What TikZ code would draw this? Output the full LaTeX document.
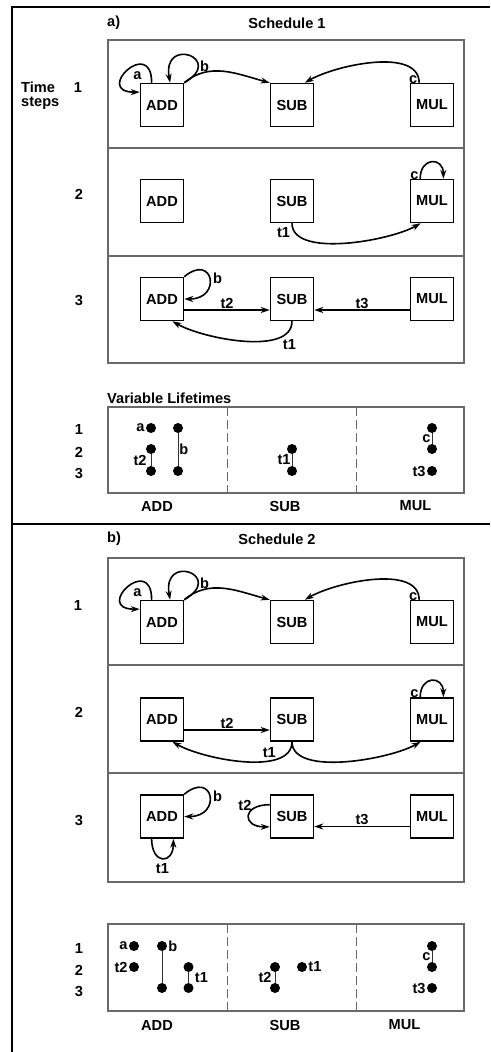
\documentclass[tikz,border=0pt]{standalone}
\usepackage{fontspec}
\setmainfont{Liberation Sans}
\usetikzlibrary{arrows.meta, positioning}
\definecolor{frameGray}{RGB}{105,105,105}
\definecolor{lifeGray}{RGB}{50,50,50}

\begin{document}
\begin{tikzpicture}[
	x=1pt, y=1pt,
	font=\fontsize{14.6}{16}\selectfont\bfseries,
	every node/.append style={inner sep=1pt},
	every label/.style={inner sep=1pt},
	opbox/.style={draw, line width=1.5pt, minimum width=43pt, minimum height=43pt, inner sep=0pt},
	panel/.style={draw=frameGray, line width=1.1pt},
	colsep/.style={draw=frameGray, line width=1pt, dash pattern=on 9pt off 4pt},
	arr/.style={-{Stealth[length=9pt, width=6pt]}, line width=1.6pt},
	vardot/.style={circle, fill, inner sep=0pt, minimum size=10pt, label distance=1pt},
	life/.style={draw=lifeGray, line width=0.9pt}
]
	\useasboundingbox (0,0) rectangle (490,-1052);
	\draw[line width=2pt] (490,-7) -- (12,-7) -- (12,-1052);
	\draw[line width=2pt] (12,-524) -- (490,-524);

	% a) schedule 1
	\node[anchor=west] (tagA) at (106,-23) {a)};
	\node (titleA) at (287,-23) {Schedule 1};
	\node[align=left, anchor=north west, inner sep=0pt, font=\fontsize{14.6}{13.5}\selectfont\bfseries] (timeLbl) at (21,-82) {Time\\steps};
	\node (stepA1) at (78,-87) {1};
	\node (stepA2) at (79,-194) {2};
	\node (stepA3) at (79,-300) {3};
	\draw[panel] (108,-40) rectangle (464,-363);
	\draw[panel] (108,-148) -- (464,-148);
	\draw[panel] (108,-256) -- (464,-256);

	\node[opbox] (addA1) at (162,-105) {ADD};
	\node[opbox, right=85.5pt of addA1] (subA1) {SUB};
	\node[opbox, right=95.5pt of subA1] (mulA1) {MUL};
	\node[opbox] (addA2) at (162,-201) {ADD};
	\node[opbox, right=85.5pt of addA2] (subA2) {SUB};
	\node[opbox, right=95.5pt of subA2] (mulA2) {MUL};
	\node[opbox] (addA3) at (162,-299) {ADD};
	\node[opbox, right=85.5pt of addA3] (subA3) {SUB};
	\node[opbox, right=95.5pt of subA3] (mulA3) {MUL};

	\draw[arr] (addA1.115) to[out=90, in=180, distance=47pt] node[pos=0.6, right=8pt]{a} (addA1.150);
	\draw[arr] (addA1.north east) to[out=30, in=100, distance=48pt] node[pos=0.25, right]{b} (addA1.70);
	\draw[arr] (addA1.north east) to[out=40, in=165] (subA1.north west);
	\draw[arr] (mulA1.120) to[out=90, in=30, looseness=0.8] node[pos=0.03, left]{c} (subA1.60);

	\draw[arr] (mulA2.118) to[out=90, in=90, distance=22pt] node[pos=0.05, left]{c} (mulA2.63);
	\draw[arr] (subA2.south) to[out=-90, in=-150, looseness=0.7] node[pos=0.1, left=3pt]{t1} (mulA2.243);

	\draw[arr] (addA3.north east) to[out=40, in=0, distance=38pt] node[pos=0.5, right=2pt]{b} (addA3.east);
	\draw[arr] ([yshift=-11pt]addA3.east) -- node[above]{t2} ([yshift=-11pt]subA3.west);
	\draw[arr] ([yshift=-11pt]mulA3.west) -- node[above]{t3} ([yshift=-11pt]subA3.east);
	\draw[arr] (subA3.south) to[out=-90, in=-30, looseness=0.75] node[pos=0.1, below=7pt]{t1} (addA3.-65);

	\node[anchor=west] (lifeTitle) at (106,-398) {Variable Lifetimes};
	\draw[panel] (108,-407) rectangle (464,-493);
	\draw[colsep] (227,-407) -- (227,-493);
	\draw[colsep] (356,-407) -- (356,-493);
	\node (lstepA1) at (79,-429) {1};
	\node (lstepA2) at (79,-452) {2};
	\node (lstepA3) at (79,-473) {3};

	\node[vardot, label=left:a] (varAa) at (151,-428) {};
	\node[vardot] (varAt2s) at (151,-449) {};
	\node[vardot] (varAt2e) at (151,-471) {};
	\node[vardot] (varAbs) at (178,-428) {};
	\node[vardot] (varAbe) at (178,-471) {};
	\node[vardot] (varAt1s) at (292,-449) {};
	\node[vardot] (varAt1e) at (292,-471) {};
	\node[vardot] (varAcs) at (432,-428) {};
	\node[vardot] (varAce) at (432,-449) {};
	\node[vardot, label=left:t3] (varAt3) at (432,-471) {};
	\draw[life] (varAt2s) -- node[left=3pt]{t2} (varAt2e);
	\draw[life] (varAbs) -- node[right]{b} (varAbe);
	\draw[life] (varAt1s) -- node[left]{t1} (varAt1e);
	\draw[life] (varAcs) -- node[left]{c} (varAce);

	\node (unitA1) at (157,-506) {ADD};
	\node (unitA2) at (285,-506) {SUB};
	\node (unitA3) at (415.5,-506) {MUL};

	% b) schedule 2
	\node[anchor=west] (tagB) at (106,-539) {b)};
	\node (titleB) at (277,-539) {Schedule 2};
	\node (stepB1) at (78,-605) {1};
	\node (stepB2) at (79,-712) {2};
	\node (stepB3) at (79,-820) {3};
	\draw[panel] (108,-558) rectangle (464,-882);
	\draw[panel] (108,-665) -- (464,-665);
	\draw[panel] (108,-773) -- (464,-773);

	\node[opbox] (addB1) at (162,-622) {ADD};
	\node[opbox, right=85.5pt of addB1] (subB1) {SUB};
	\node[opbox, right=95.5pt of subB1] (mulB1) {MUL};
	\node[opbox] (addB2) at (162,-719.5) {ADD};
	\node[opbox, right=85.5pt of addB2] (subB2) {SUB};
	\node[opbox, right=95.5pt of subB2] (mulB2) {MUL};
	\node[opbox] (addB3) at (162,-816.5) {ADD};
	\node[opbox, right=85.5pt of addB3] (subB3) {SUB};
	\node[opbox, right=95.5pt of subB3] (mulB3) {MUL};

	\draw[arr] (addB1.115) to[out=90, in=180, distance=47pt] node[pos=0.6, right=8pt]{a} (addB1.150);
	\draw[arr] (addB1.north east) to[out=30, in=100, distance=48pt] node[pos=0.25, right]{b} (addB1.70);
	\draw[arr] (addB1.north east) to[out=40, in=165] (subB1.north west);
	\draw[arr] (mulB1.120) to[out=90, in=30, looseness=0.8] node[pos=0.03, left]{c} (subB1.60);

	\draw[arr] (mulB2.118) to[out=90, in=90, distance=22pt] node[pos=0.05, left]{c} (mulB2.63);
	\draw[arr] ([yshift=-10.5pt]addB2.east) -- node[above]{t2} ([yshift=-10.5pt]subB2.west);
	\draw[arr] (subB2.south) to[out=-90, in=-30, looseness=0.75] node[pos=0.25, above left]{t1} (addB2.-65);
	\draw[arr] (subB2.south) to[out=-90, in=-150, looseness=0.7] (mulB2.243);

	\draw[arr] (addB3.north east) to[out=40, in=0, distance=38pt] node[pos=0.5, right=2pt]{b} (addB3.east);
	\draw[arr] (addB3.-115) to[out=-90, in=-90, distance=26pt] node[below=3pt]{t1} (addB3.-63);
	\draw[arr] (subB3.152) to[out=180, in=180, distance=28pt] node[pos=0.1, left=9pt]{t2} (subB3.205);
	\draw[arr] ([yshift=-10pt]mulB3.west) -- node[above]{t3} ([yshift=-10pt]subB3.east);

	\draw[panel] (108,-924) rectangle (464,-1011);
	\draw[colsep] (227,-924) -- (227,-1011);
	\draw[colsep] (356,-924) -- (356,-1011);
	\node (lstepB1) at (79,-948) {1};
	\node (lstepB2) at (79,-970) {2};
	\node (lstepB3) at (79,-991) {3};

	\node[vardot, label=left:a] (varBa) at (134,-946) {};
	\node[vardot, label=left:t2] (varBt2a) at (134,-967) {};
	\node[vardot, label=right:b] (varBbs) at (162,-946) {};
	\node[vardot] (varBbe) at (162,-988) {};
	\node[vardot] (varBt1s) at (188.5,-967) {};
	\node[vardot] (varBt1e) at (188.5,-988) {};
	\node[vardot] (varBt2s) at (275,-967) {};
	\node[vardot] (varBt2e) at (275,-988) {};
	\node[vardot, label=right:t1] (varBt1) at (302,-967) {};
	\node[vardot] (varBcs) at (432,-946) {};
	\node[vardot] (varBce) at (432,-967) {};
	\node[vardot, label=left:t3] (varBt3) at (432,-988) {};
	\draw[life] (varBbs) -- (varBbe);
	\draw[life] (varBt1s) -- node[right=5pt]{t1} (varBt1e);
	\draw[life] (varBt2s) -- node[left=2pt]{t2} (varBt2e);
	\draw[life] (varBcs) -- node[left]{c} (varBce);

	\node (unitB1) at (157,-1025) {ADD};
	\node (unitB2) at (285,-1025) {SUB};
	\node (unitB3) at (404.5,-1025) {MUL};
\end{tikzpicture}
\end{document}
